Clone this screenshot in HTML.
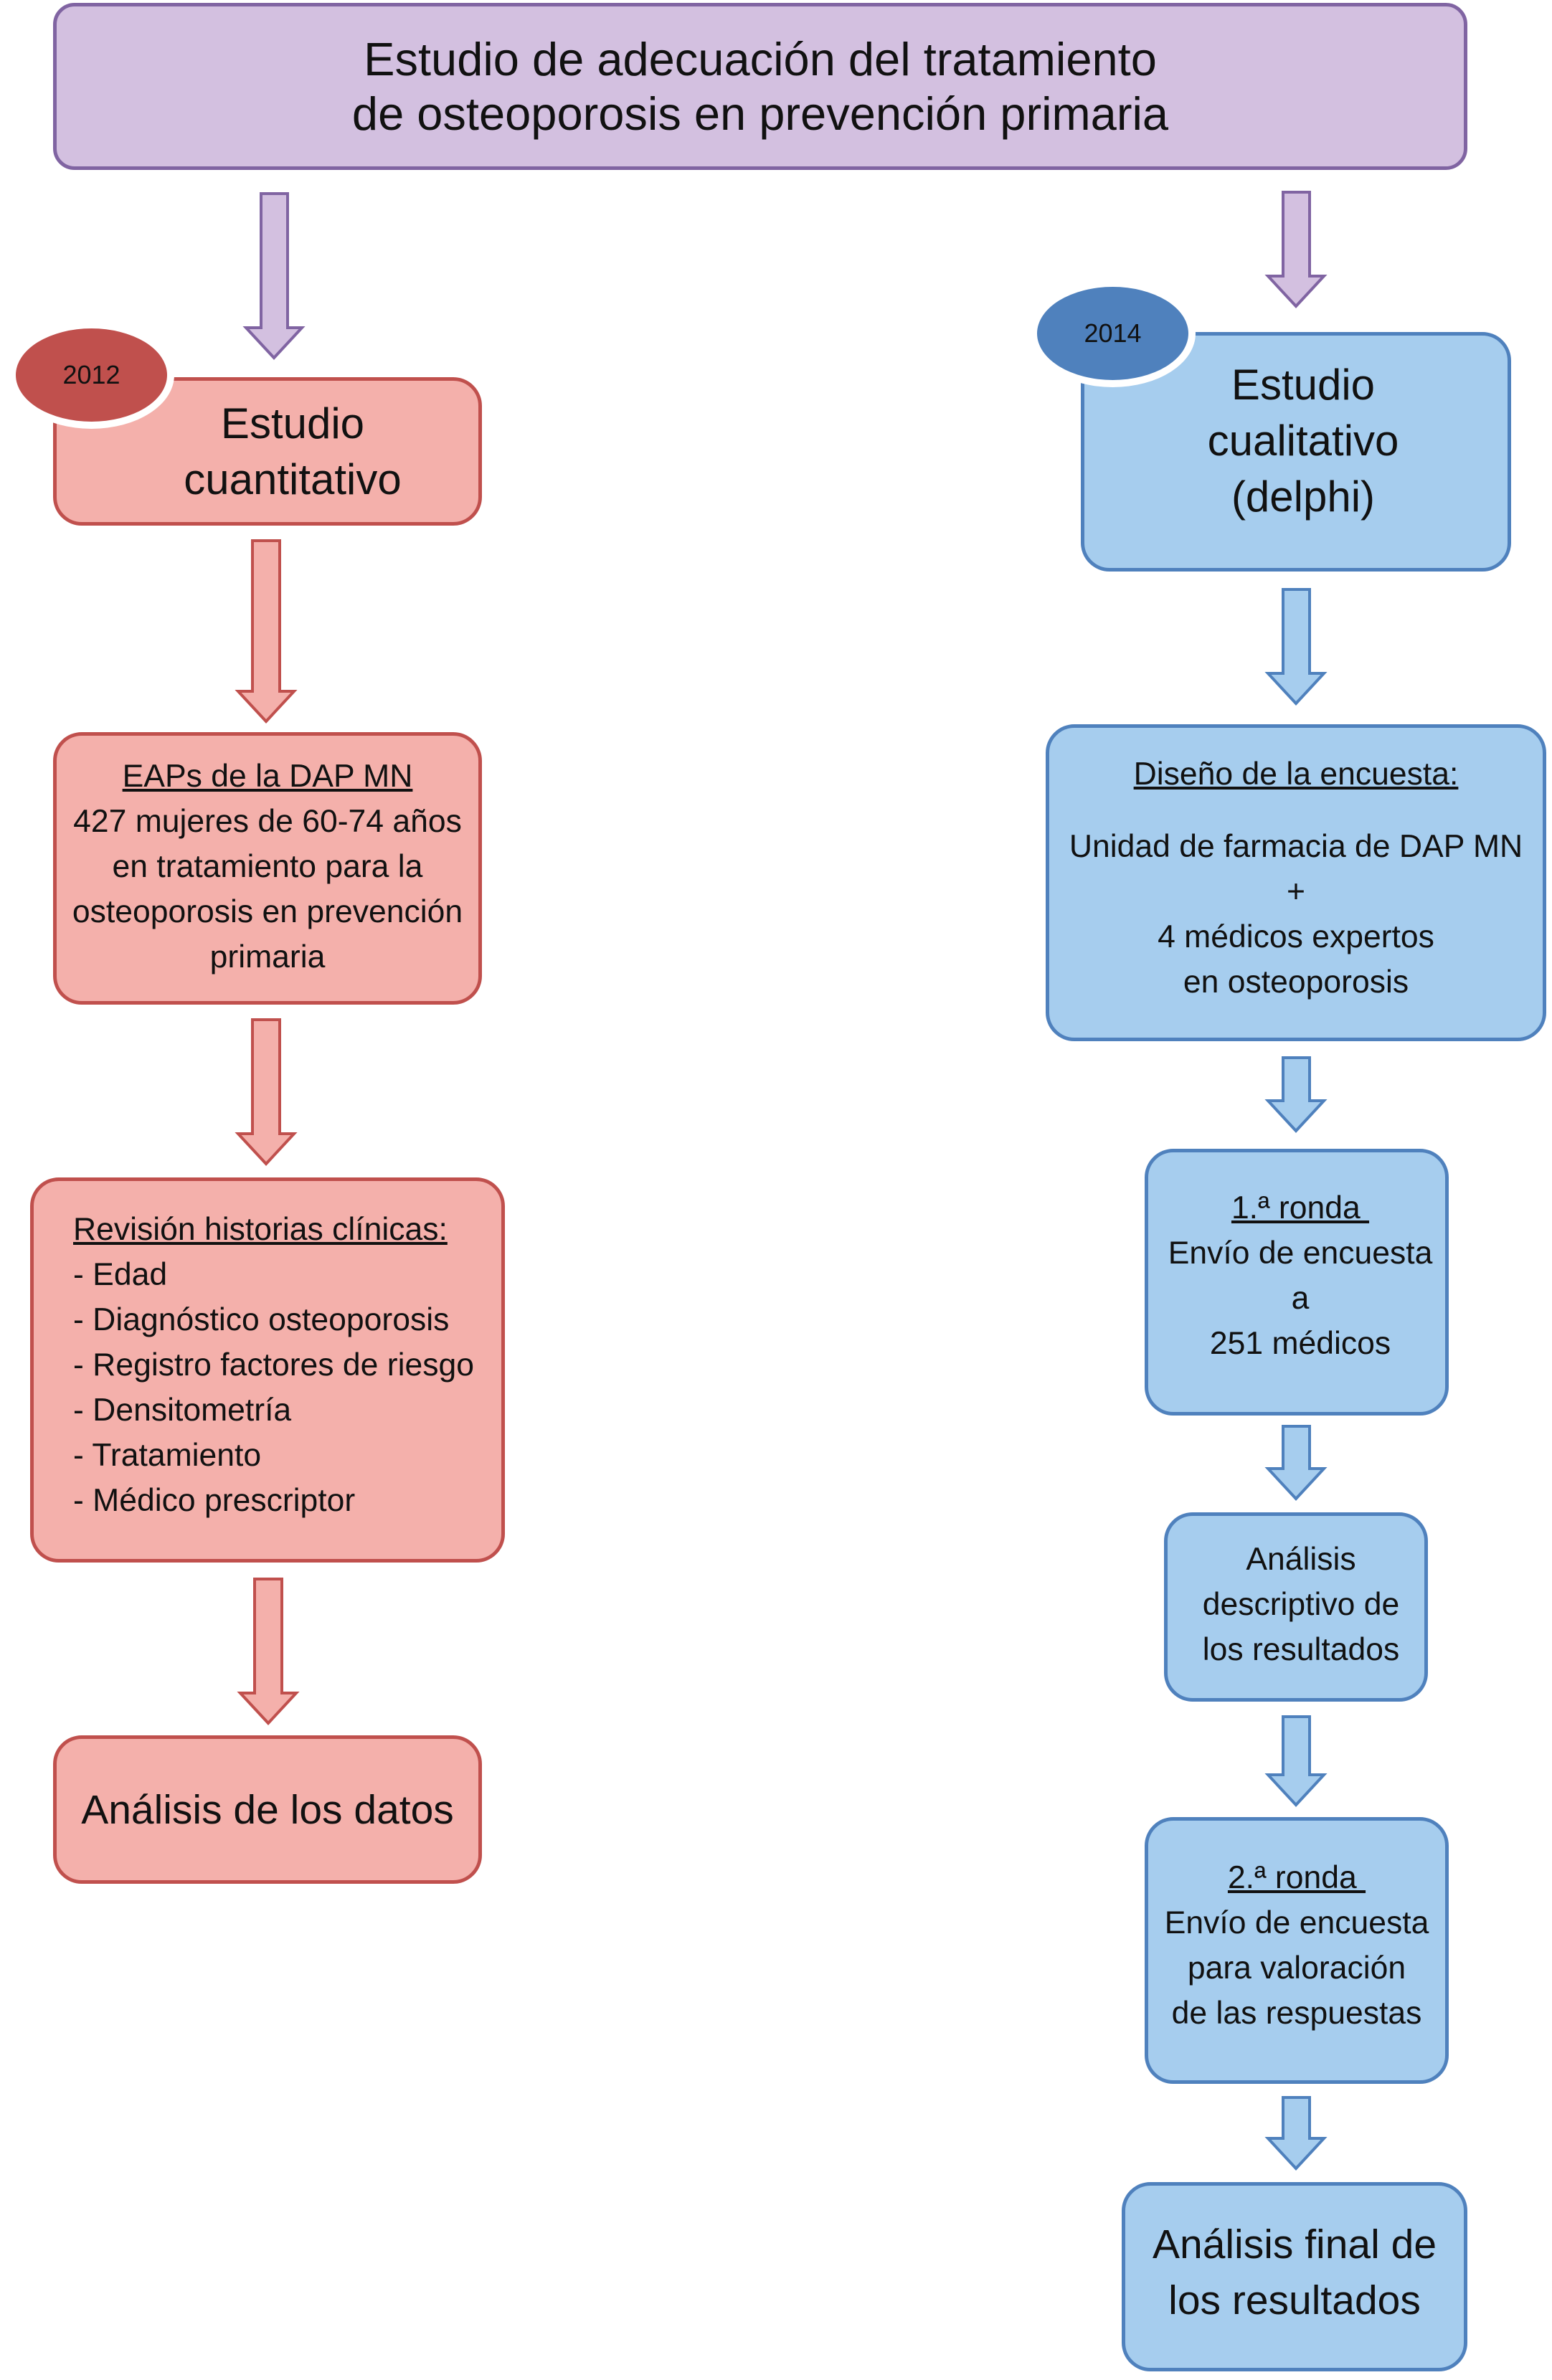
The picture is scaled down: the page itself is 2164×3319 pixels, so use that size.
<!DOCTYPE html>
<html><head><meta charset="utf-8"><style>
body{margin:0;width:2164px;height:3319px;background:#fff;position:relative;overflow:hidden;font-family:"Liberation Sans",sans-serif;color:#111}
.b{position:absolute;box-sizing:border-box;display:flex;flex-direction:column;justify-content:center;align-items:center;text-align:center;border-width:5px;border-style:solid;border-radius:40px}
.r{background:#f4b0ab;border-color:#c0504d}
.u{background:#a6cdee;border-color:#4f81bd}
.s{font-size:44.5px;line-height:63px}
.L{font-size:57px;line-height:78px}
u{text-decoration:underline}
.e{position:absolute;border-radius:50%;border:10px solid #fff;color:#111;font-size:36px;display:flex;align-items:center;justify-content:center;box-sizing:border-box}
svg{position:absolute;left:0;top:0}
</style></head><body>
<svg width="2164" height="3319">
<g stroke-width="4">
<polygon fill="#d3c0e0" stroke="#8064a2" points="364,270 401,270 401,457 421,457 382,499 343,457 364,457"/>
<polygon fill="#d3c0e0" stroke="#8064a2" points="1789,268 1826,268 1826,385 1846,385 1807,427 1768,385 1789,385"/>
<polygon fill="#f4b0ab" stroke="#c0504d" points="352,754 390,754 390,964 410,964 371,1006 332,964 352,964"/>
<polygon fill="#f4b0ab" stroke="#c0504d" points="352,1422 390,1422 390,1581 410,1581 371,1623 332,1581 352,1581"/>
<polygon fill="#f4b0ab" stroke="#c0504d" points="355,2202 393,2202 393,2361 413,2361 374,2403 335,2361 355,2361"/>
<polygon fill="#a6cdee" stroke="#4f81bd" points="1789,822 1826,822 1826,939 1846,939 1807,981 1768,939 1789,939"/>
<polygon fill="#a6cdee" stroke="#4f81bd" points="1789,1475 1826,1475 1826,1535 1846,1535 1807,1577 1768,1535 1789,1535"/>
<polygon fill="#a6cdee" stroke="#4f81bd" points="1789,1989 1826,1989 1826,2048 1846,2048 1807,2090 1768,2048 1789,2048"/>
<polygon fill="#a6cdee" stroke="#4f81bd" points="1789,2394 1826,2394 1826,2475 1846,2475 1807,2517 1768,2475 1789,2475"/>
<polygon fill="#a6cdee" stroke="#4f81bd" points="1789,2925 1826,2925 1826,2982 1846,2982 1807,3024 1768,2982 1789,2982"/>
</g></svg>
<div class="b" style="left:74px;top:4px;width:1972px;height:233px;background:#d3c0e0;border-color:#8064a2;border-radius:30px;font-size:65px;line-height:76px">Estudio de adecuación del tratamiento<br>de osteoporosis en prevención primaria</div>

<div class="b r L" style="left:74px;top:526px;width:598px;height:207px;padding-left:70px;font-size:60px">Estudio<br>cuantitativo</div>
<div class="e" style="left:12px;top:448px;width:231px;height:150px;background:#c0504d">2012</div>
<div class="b r s" style="left:74px;top:1021px;width:598px;height:380px;padding-bottom:6px"><u>EAPs de la DAP MN</u>427 mujeres de 60-74 años<br>en tratamiento para la<br>osteoporosis en prevención<br>primaria</div>
<div class="b r s" style="left:42px;top:1642px;width:662px;height:537px;align-items:flex-start;text-align:left;padding-left:55px;padding-bottom:14px"><u>Revisión historias clínicas:</u>- Edad<br>- Diagnóstico osteoporosis<br>- Registro factores de riesgo<br>- Densitometría<br>- Tratamiento<br>- Médico prescriptor</div>
<div class="b r L" style="left:74px;top:2420px;width:598px;height:207px">Análisis de los datos</div>

<div class="b u L" style="left:1507px;top:463px;width:600px;height:334px;padding-left:20px;padding-bottom:30px;font-size:60px">Estudio<br>cualitativo<br>(delphi)</div>
<div class="e" style="left:1436px;top:390px;width:231px;height:150px;background:#4f81bd">2014</div>
<div class="b u s" style="left:1458px;top:1010px;width:698px;height:442px;padding-bottom:14px"><u>Diseño de la encuesta:</u><div style="height:38px"></div>Unidad de farmacia de DAP MN<br>+<br>4 médicos expertos<br>en osteoporosis</div>
<div class="b u s" style="left:1596px;top:1602px;width:424px;height:372px;padding-bottom:18px;padding-left:10px"><u>1.ª ronda&nbsp;</u>Envío de encuesta<br>a<br>251 médicos</div>
<div class="b u s" style="left:1623px;top:2109px;width:368px;height:264px;padding-bottom:8px;padding-left:14px">Análisis<br>descriptivo de<br>los resultados</div>
<div class="b u s" style="left:1596px;top:2534px;width:424px;height:372px;padding-bottom:14px"><u>2.ª ronda&nbsp;</u>Envío de encuesta<br>para valoración<br>de las respuestas</div>
<div class="b u L" style="left:1564px;top:3043px;width:482px;height:264px;padding-bottom:12px">Análisis final de<br>los resultados</div>
</body></html>
